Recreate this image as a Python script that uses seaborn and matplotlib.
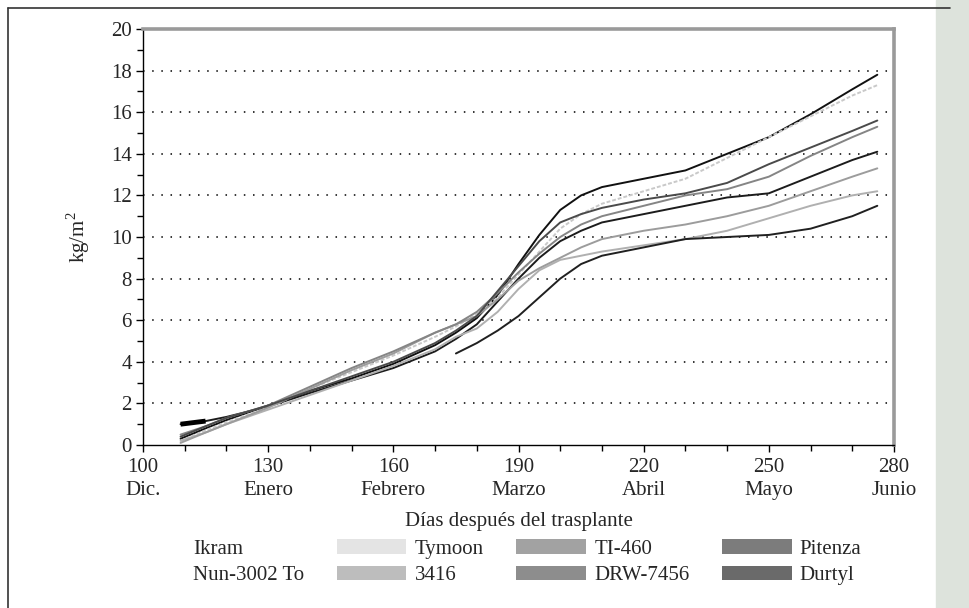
import matplotlib
import numpy as np
import pandas as pd
import seaborn as sns
from matplotlib import pyplot as plt
from matplotlib.lines import Line2D
from matplotlib.patches import Patch, Rectangle
from matplotlib.ticker import MultipleLocator

matplotlib.use("Agg")

# días después del trasplante
dias = [109, 115, 120, 130, 140, 150, 160, 170, 175, 180, 185, 190, 195, 200, 205, 210, 220, 230, 240, 250, 260, 270, 276]

# kg/m2
ikram = [0.3, 0.8, 1.2, 1.9, 2.6, 3.2, 3.9, 4.8, 5.4, 6.1, 7.2, 8.7, 10.1, 11.3, 12.0, 12.4, 12.8, 13.2, 14.0, 14.8, 15.9, 17.1, 17.8]
nun_3002 = [1.0, 1.15, 1.35, 1.85, 2.5, 3.1, 3.7, 4.5, 5.1, 5.8, 6.9, 8.0, 9.0, 9.8, 10.3, 10.7, 11.1, 11.5, 11.9, 12.1, 12.9, 13.7, 14.1]
tymoon = [0.2, 0.7, 1.1, 1.8, 2.7, 3.5, 4.3, 5.2, 5.7, 6.3, 7.1, 8.2, 9.3, 10.4, 11.1, 11.6, 12.2, 12.8, 13.8, 14.8, 15.8, 16.8, 17.3]
v3416 = [0.2, 0.6, 1.0, 1.7, 2.4, 3.1, 3.8, 4.6, 5.2, 5.6, 6.4, 7.5, 8.4, 8.9, 9.1, 9.3, 9.6, 9.9, 10.3, 10.9, 11.5, 12.0, 12.2]
ti_460 = [0.1, 0.6, 1.0, 1.8, 2.7, 3.6, 4.4, 5.4, 5.8, 6.2, 7.0, 7.9, 8.5, 9.0, 9.5, 9.9, 10.3, 10.6, 11.0, 11.5, 12.2, 12.9, 13.3]
drw_7456 = [0.5, 0.9, 1.3, 1.9, 2.8, 3.7, 4.5, 5.4, 5.8, 6.4, 7.3, 8.3, 9.2, 10.0, 10.6, 11.0, 11.5, 12.0, 12.3, 12.9, 13.9, 14.8, 15.3]
pitenza = [np.nan] * 8 + [4.4, 4.9, 5.5, 6.2, 7.1, 8.0, 8.7, 9.1, 9.5, 9.9, 10.0, 10.1, 10.4, 11.0, 11.5]
durtyl = [0.4, 0.9, 1.3, 1.9, 2.6, 3.3, 4.0, 4.9, 5.5, 6.2, 7.4, 8.6, 9.8, 10.7, 11.1, 11.4, 11.8, 12.1, 12.6, 13.5, 14.3, 15.1, 15.6]

variedades = ["Ikram", "Nun-3002 To", "Tymoon", "3416", "TI-460", "DRW-7456", "Pitenza", "Durtyl"]
series = [ikram, nun_3002, tymoon, v3416, ti_460, drw_7456, pitenza, durtyl]

colores_linea = {
    "Ikram": "#111111",
    "Nun-3002 To": "#1c1c1c",
    "Tymoon": "#c9c9c9",
    "3416": "#b0b0b0",
    "TI-460": "#9c9c9c",
    "DRW-7456": "#858585",
    "Pitenza": "#202020",
    "Durtyl": "#4a4a4a",
}
colores_leyenda = {
    "Ikram": "none",
    "Nun-3002 To": "none",
    "Tymoon": "#e4e4e4",
    "3416": "#bdbdbd",
    "TI-460": "#a2a2a2",
    "DRW-7456": "#8d8d8d",
    "Pitenza": "#7c7c7c",
    "Durtyl": "#6a6a6a",
}

ticks_x = [100, 130, 160, 190, 220, 250, 280]
meses = ["Dic.", "Enero", "Febrero", "Marzo", "Abril", "Mayo", "Junio"]

FS = 15


def build_dataframe():
    frames = []
    for nombre, valores in zip(variedades, series):
        frames.append(pd.DataFrame({"dia": dias, "kg": valores, "variedad": nombre}))
    return pd.concat(frames).dropna()


def plot_curves(ax, df):
    sns.lineplot(
        data=df,
        x="dia",
        y="kg",
        hue="variedad",
        hue_order=variedades,
        palette=colores_linea,
        linewidth=1.4,
        legend=False,
        ax=ax,
    )
    # Tymoon se ve punteado en el original
    ax.lines[2].set_linestyle((0, (2, 1)))
    # tramo inicial grueso de Nun-3002 To
    ax.plot(dias[:2], nun_3002[:2], color="#000000", linewidth=3.5, solid_capstyle="butt")


def style_axes(ax):
    ax.set_xlim(100, 280)
    ax.set_ylim(0, 20)
    ax.xaxis.set_major_locator(MultipleLocator(30))
    ax.xaxis.set_minor_locator(MultipleLocator(10))
    ax.yaxis.set_major_locator(MultipleLocator(2))
    ax.yaxis.set_minor_locator(MultipleLocator(1))
    ax.set_xticks(ticks_x)
    ax.set_xticklabels([f"{d}\n{m}" for d, m in zip(ticks_x, meses)], linespacing=1.3)
    ax.tick_params(axis="both", which="both", direction="out", color="black", labelsize=FS,
                   bottom=True, left=True, top=False, right=False)
    ax.tick_params(axis="both", which="major", length=5, width=1)
    ax.tick_params(axis="both", which="minor", length=4, width=1)
    ax.tick_params(axis="x", pad=4)
    ax.tick_params(axis="y", pad=3)

    for y in range(2, 20, 2):
        ax.axhline(y, color="black", linestyle=(0, (1, 5)), linewidth=1.1, zorder=0)

    for lado in ["left", "bottom"]:
        ax.spines[lado].set_color("black")
        ax.spines[lado].set_linewidth(1.0)
    for lado in ["top", "right"]:
        ax.spines[lado].set_color("#9a9a9a")
        ax.spines[lado].set_linewidth(2.6)

    ax.set_xlabel("Días después del trasplante", fontsize=FS, labelpad=9)
    ax.set_ylabel("kg/m$^2$", fontsize=FS, labelpad=14)


def add_legend(fig):
    handles = [Patch(facecolor=colores_leyenda[n], edgecolor="none", label=n) for n in variedades]
    fig.legend(
        handles=handles,
        labels=variedades,
        loc="upper left",
        bbox_to_anchor=(115 / 969, 1 - 539 / 608),
        ncol=4,
        frameon=False,
        fontsize=FS,
        handlelength=3.35,
        handleheight=0.7,
        handletextpad=0.4,
        columnspacing=1.55,
        labelspacing=0.35,
        borderpad=0,
        borderaxespad=0,
    )


def add_page_frame(fig):
    fig.add_artist(Line2D([8 / 969, 8 / 969], [0, 1 - 8 / 608], color="#333333", linewidth=1.2))
    fig.add_artist(Line2D([8 / 969, 950 / 969], [1 - 8 / 608, 1 - 8 / 608], color="#333333", linewidth=1.2))
    fig.add_artist(Rectangle((936 / 969, 0), 33 / 969, 1, color="#dde3dc", zorder=-1))


def main():
    sns.set_style("white")
    plt.rcParams["font.family"] = ["Liberation Serif", "DejaVu Serif"]
    plt.rcParams["mathtext.fontset"] = "custom"
    plt.rcParams["mathtext.rm"] = "Liberation Serif"

    fig = plt.figure(figsize=(9.69, 6.08), dpi=100)
    ax = fig.add_axes([143 / 969, 1 - 445 / 608, (894 - 143) / 969, (445 - 29) / 608])

    df = build_dataframe()
    plot_curves(ax, df)
    style_axes(ax)
    add_legend(fig)
    add_page_frame(fig)

    fig.savefig("out.png", dpi=100)


if __name__ == "__main__":
    main()
